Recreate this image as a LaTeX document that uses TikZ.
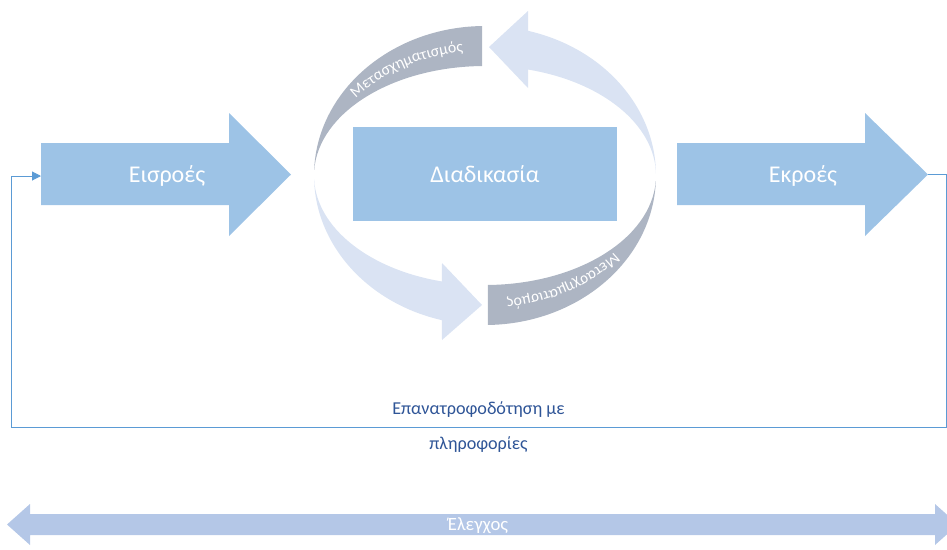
\documentclass[tikz,border=0pt]{standalone}
\usepackage{fontspec}
\setmainfont{Carlito}
\usetikzlibrary{arrows.meta,calc,decorations.text}

\definecolor{stepblue}{HTML}{9DC3E6}
\definecolor{ringgray}{HTML}{ADB5C3}
\definecolor{ringlight}{HTML}{DAE3F3}
\definecolor{ctrlblue}{HTML}{B4C7E7}
\definecolor{fbline}{HTML}{5B9BD5}
\definecolor{fbtext}{HTML}{2F5597}

\begin{document}
\begin{tikzpicture}[x=0.03cm,y=0.03cm,
  stepfill/.style={fill=stepblue},
  steptext/.style={text=white,font=\fontsize{20.5}{24}\selectfont,anchor=base,inner sep=0pt},
  ctrltext/.style={text=white,font=\fontsize{16}{19}\selectfont,anchor=base,inner sep=0pt},
  fbarrow/.style={draw=fbline,line width=0.85pt,-{Triangle[length=7.5pt,width=7.5pt]}},
  fblabel/.style={text=fbtext,font=\fontsize{15.5}{29.7}\selectfont,align=center,inner sep=0pt},
  ringtext/.style={decorate,decoration={text along path,text align=left,text color=white,
      text={|\fontsize{13.5}{16}\selectfont|#1}}}
]
\useasboundingbox (0,0) rectangle (947,-549);
\clip (0,0) rectangle (947,-549);

% input and output block arrows
\path[stepfill] (41,-143) -- (229,-143) -- (229,-113) -- (291,-174.5) -- (229,-236) -- (229,-205) -- (41,-205) -- cycle;
\path[stepfill] (677,-143) -- (865,-143) -- (865,-113) -- (928,-174.5) -- (865,-236) -- (865,-205) -- (677,-205) -- cycle;
\node[steptext] (inputs) at (167,-182) {Εισροές};
\node[steptext] (outputs) at (803,-182) {Εκροές};
\coordinate (inTail) at (41,-176);
\coordinate (outTip) at (928,-174);

% process box
\node[fill=stepblue,minimum width=264*0.03cm,minimum height=94*0.03cm,inner sep=0pt] (process) at (485,-174) {};
\node[steptext] (processText) at (485,-182) {Διαδικασία};

% transformation ring
\coordinate (ring) at (485,-175.5);
% upper grey band
\fill[ringgray] ($(ring)+(177:171 and 149.5)$) arc[start angle=177,end angle=91,x radius=171,y radius=149.5]
  -- ($(ring)+(91:171 and 109.5)$) arc[start angle=91,end angle=177,x radius=171,y radius=109.5] -- cycle;
% upper light arrow
\fill[ringlight] ($(ring)+(1:171 and 149.5)$) arc[start angle=1,end angle=75.4,x radius=171,y radius=149.5]
  -- (528,-11) -- (489,-47) -- (528,-88)
  -- ($(ring)+(75.4:171 and 109.5)$) arc[start angle=75.4,end angle=1,x radius=171,y radius=109.5] -- cycle;
% lower light arrow
\fill[ringlight] ($(ring)+(182:171 and 149.5)$) arc[start angle=182,end angle=255.4,x radius=171,y radius=149.5]
  -- (442,-340) -- (482,-305) -- (442,-263)
  -- ($(ring)+(255.4:171 and 109.5)$) arc[start angle=255.4,end angle=182,x radius=171,y radius=109.5] -- cycle;
% lower grey band
\fill[ringgray] ($(ring)+(-3:171 and 149.5)$) arc[start angle=-3,end angle=-89,x radius=171,y radius=149.5]
  -- ($(ring)+(-89:171 and 109.5)$) arc[start angle=-89,end angle=-3,x radius=171,y radius=109.5] -- cycle;
% band labels, set from the start of a long guide arc
\path[ringtext={Μετασχηματισμός}] ($(ring)+(142:164 and 125)$) arc[start angle=142,end angle=40,x radius=164,y radius=125];
\path[ringtext={Μετασχηματισμός}] ($(ring)+(322:164 and 125)$) arc[start angle=322,end angle=220,x radius=164,y radius=125];

% feedback loop
\coordinate (fbR) at (946,-427);
\coordinate (fbL) at (11,-427);
\draw[fbarrow] (outTip) -| (fbR) -- node[fblabel] (feedback) {Επανατροφοδότηση με\\πληροφορίες} (fbL) |- (inTail);

% control double arrow
\path[fill=ctrlblue] (7,-524.5) -- (30,-504) -- (30,-514) -- (935,-514) -- (935,-504) -- (958,-524.5)
  -- (935,-545) -- (935,-535) -- (30,-535) -- (30,-545) -- cycle;
\node[ctrltext] (control) at (478,-530) {Έλεγχος};
\end{tikzpicture}
\end{document}
